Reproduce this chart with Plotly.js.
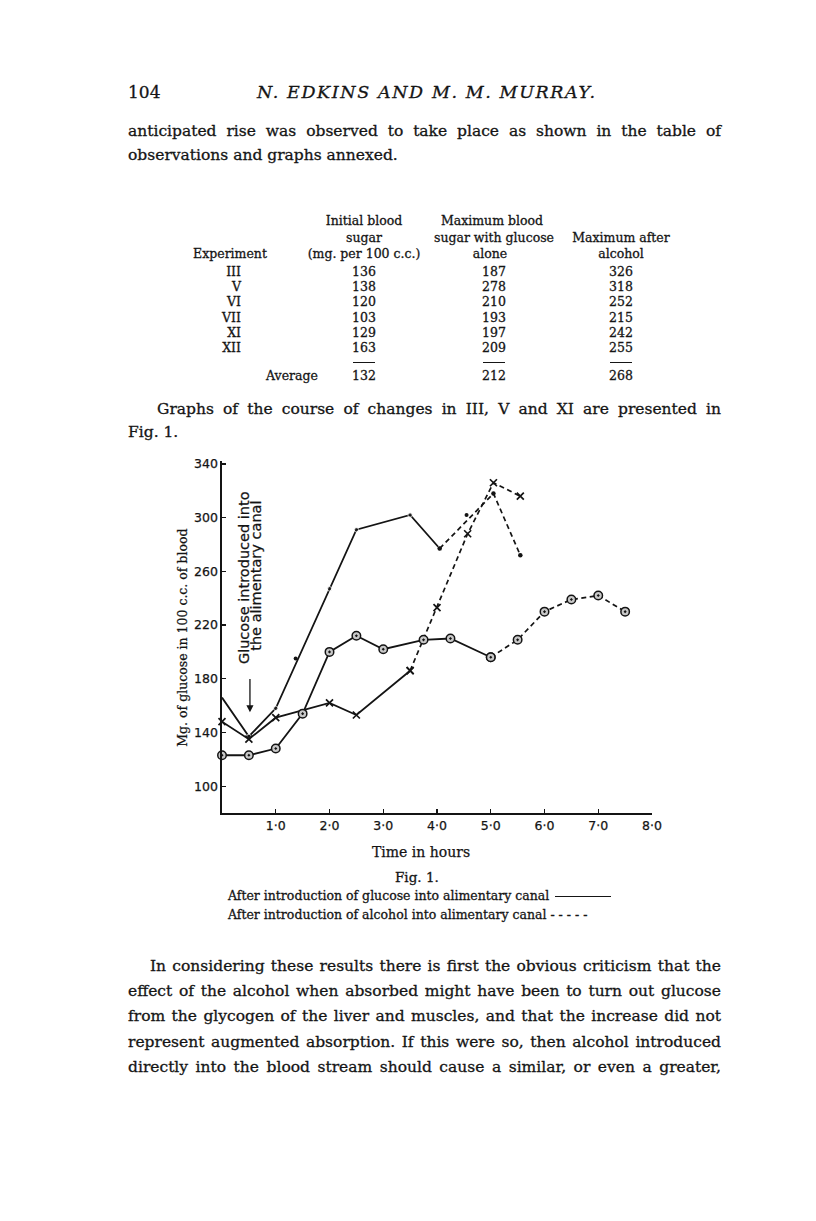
<!DOCTYPE html>
<html>
<head>
<meta charset="utf-8">
<script src="https://cdn.plot.ly/plotly-3.0.1.min.js"></script>
<style>
  html, body { margin: 0; padding: 0; background: #fff; }
  #page { position: relative; width: 816px; height: 1221px; overflow: hidden;
          font-family: "DejaVu Serif", serif; color: #151515; }
  .line { position: absolute; line-height: 20px; font-size: 15.5px; white-space: nowrap;
          -webkit-text-stroke: 0.3px #151515; }
  .just { text-align: justify; text-align-last: justify; white-space: normal; }
  .cell { position: absolute; width: 160px; font-size: 12.5px; line-height: 16px;
          text-align: center; white-space: nowrap; -webkit-text-stroke: 0.3px #151515; }
  .rule { position: absolute; height: 0; border-top: 1.2px solid #151515; }
  #chart { position: absolute; left: 120px; top: 440px; width: 560px; height: 440px; }
  #chart text { stroke: #151515; stroke-width: 0.25px; }
</style>
</head>
<body>
<div id="page">
  <div id="chart"></div>
</div>
<script>
// table of observations
const experiments = ["III", "V", "VI", "VII", "XI", "XII"];
const initialSugar = [136, 138, 120, 103, 129, 163];
const maxGlucose = [187, 278, 210, 193, 197, 209];
const maxAlcohol = [326, 318, 252, 215, 242, 255];
const averages = [132, 212, 268];

// Fig. 1 - hours after start, mg. glucose per 100 c.c.
// Exp. V (dots)
const vGlucT = [0, 0.5, 1.0, 2.0, 2.5, 3.5, 4.05];
const vGlucY = [166, 137, 158, 247, 291, 302, 277];
const vAlcT = [4.05, 5.05, 5.55];
const vAlcY = [277, 318, 272];
// Exp. III (crosses)
const iiiGlucT = [0, 0.5, 1.0, 2.0, 2.5, 3.5];
const iiiGlucY = [148, 135, 151, 162, 153, 186];
const iiiAlcT = [3.5, 4.0, 4.57, 5.05, 5.55];
const iiiAlcY = [186, 233, 288, 326, 316];
// Exp. XI (circles)
const xiGlucT = [0, 0.5, 1.0, 1.5, 2.0, 2.5, 3.0, 3.75, 4.25, 5.0];
const xiGlucY = [123, 123, 128, 154, 200, 212, 202, 209, 210, 196];
const xiAlcT = [5.0, 5.5, 6.0, 6.5, 7.0, 7.5];
const xiAlcY = [196, 209, 230, 239, 242, 230];
// loose dots off the lines
const strayT = [1.37, 4.55];
const strayY = [195, 302];

const xTicks = [1, 2, 3, 4, 5, 6, 7, 8];
const xTickText = ["1·0", "2·0", "3·0", "4·0", "5·0", "6·0", "7·0", "8·0"];
const yTicks = [100, 140, 180, 220, 260, 300, 340];

const page = document.getElementById("page");

function addLine(text, left, width, y, justify, extra) {
  const d = document.createElement("div");
  d.className = "line" + (justify ? " just" : "");
  d.style.left = left + "px";
  d.style.top = (y - 11) + "px";
  if (width) d.style.width = width + "px";
  d.textContent = text;
  if (extra) Object.assign(d.style, extra);
  page.appendChild(d);
  return d;
}

// running text
addLine("104", 128, 0, 93, false, { fontSize: "17px" });
addLine("N. EDKINS AND M. M. MURRAY.", 257, 0, 93, false, { fontSize: "17.5px", fontStyle: "italic", letterSpacing: "1.6px" });
addLine("anticipated rise was observed to take place as shown in the table of", 128, 593, 132, true);
addLine("observations and graphs annexed.", 128, 0, 156, false);
addLine("Graphs of the course of changes in III, V and XI are presented in", 157, 564, 410, true);
addLine("Fig. 1.", 128, 0, 433, false);
const para = [
  "In considering these results there is first the obvious criticism that the",
  "effect of the alcohol when absorbed might have been to turn out glucose",
  "from the glycogen of the liver and muscles, and that the increase did not",
  "represent augmented absorption. If this were so, then alcohol introduced",
  "directly into the blood stream should cause a similar, or even a greater,"
];
para.forEach((t, i) => {
  const left = i === 0 ? 150 : 128;
  addLine(t, left, 721 - left, 967 + i * 25.2, true);
});

// table
function cell(text, cx, y, align) {
  const d = document.createElement("div");
  d.className = "cell";
  d.textContent = text;
  d.style.top = (y - 8) + "px";
  if (align === "right") {
    d.style.left = (cx - 160) + "px";
    d.style.textAlign = "right";
  } else {
    d.style.left = (cx - 80) + "px";
  }
  page.appendChild(d);
}
const colX = [364, 494, 621];
cell("Initial blood", colX[0], 221);
cell("sugar", colX[0], 237.5);
cell("(mg. per 100 c.c.)", colX[0], 254);
cell("Maximum blood", colX[1] - 2, 221);
cell("sugar with glucose", colX[1], 237.5);
cell("alone", colX[1] - 4, 254);
cell("Maximum after", colX[2], 237.5);
cell("alcohol", colX[2], 254);
cell("Experiment", 230, 254);
experiments.forEach((e, i) => {
  const y = 272 + i * 15.2;
  cell(e, 241, y, "right");
  cell(String(initialSugar[i]), colX[0], y);
  cell(String(maxGlucose[i]), colX[1], y);
  cell(String(maxAlcohol[i]), colX[2], y);
});
colX.forEach((cx) => {
  const r = document.createElement("div");
  r.className = "rule";
  r.style.left = (cx - 11) + "px";
  r.style.width = "22px";
  r.style.top = "362px";
  page.appendChild(r);
});
cell("Average", 292, 376);
averages.forEach((a, i) => cell(String(a), colX[i], 376));

// caption under the figure
addLine("Fig. 1.", 395, 0, 878, false, { fontSize: "13.5px" });
const cap1 = addLine("After introduction of glucose into alimentary canal ", 228, 0, 897, false, { fontSize: "12.5px" });
const bar = document.createElement("span");
bar.style.cssText = "display:inline-block;width:56px;border-top:1.3px solid #151515;vertical-align:middle;margin-left:2px;";
cap1.appendChild(bar);
addLine("After introduction of alcohol into alimentary canal - - - - -", 228, 0, 916, false, { fontSize: "12.5px" });

// chart
const ink = "#141414";
const solid = { color: ink, width: 1.8 };
const dashed = { color: ink, width: 1.7, dash: "5px,3.5px" };
const dotMarker = { symbol: "circle", size: 4.5, color: ink };
const crossMarker = { symbol: "x-thin-open", size: 7, color: ink, line: { color: ink, width: 1.7 } };
const ringMarker = { symbol: "circle-dot", size: 8.5, color: "#c8c8c8", line: { color: ink, width: 1.5 } };

const traces = [
  { x: vGlucT, y: vGlucY, mode: "lines+markers", line: solid,
    marker: Object.assign({}, dotMarker, { size: vGlucT.map((t, i) => (i === 0 ? 0 : 4.5)) }) },
  { x: vAlcT, y: vAlcY, mode: "lines+markers", line: dashed, marker: dotMarker },
  { x: iiiGlucT, y: iiiGlucY, mode: "lines+markers", line: solid, marker: crossMarker },
  { x: iiiAlcT, y: iiiAlcY, mode: "lines+markers", line: dashed, marker: crossMarker },
  { x: xiGlucT, y: xiGlucY, mode: "lines+markers", line: solid, marker: ringMarker },
  { x: xiAlcT, y: xiAlcY, mode: "lines+markers", line: dashed, marker: ringMarker },
  { x: strayT, y: strayY, mode: "markers", marker: { symbol: "circle", size: 4, color: ink } }
].map((t) => Object.assign({ type: "scatter", cliponaxis: false, hoverinfo: "skip" }, t));

const axisCommon = {
  showline: true, linecolor: ink, linewidth: 1.6,
  showgrid: false, zeroline: false,
  ticks: "inside", ticklen: 4, tickwidth: 1.2, tickcolor: ink,
  tickfont: { family: "DejaVu Sans", size: 12.5, color: ink },
  fixedrange: true
};

const layout = {
  width: 560, height: 440,
  margin: { l: 102, r: 28, t: 21.3, b: 66.7 },
  paper_bgcolor: "rgba(0,0,0,0)", plot_bgcolor: "rgba(0,0,0,0)",
  showlegend: false,
  xaxis: Object.assign({}, axisCommon, { range: [0, 8], tickvals: xTicks, ticktext: xTickText }),
  yaxis: Object.assign({}, axisCommon, { range: [80, 342.2], tickvals: yTicks }),
  annotations: [
    { text: "Mg. of glucose in 100 c.c. of blood", xref: "paper", yref: "paper",
      x: -0.0907, y: 0.498, textangle: -90, showarrow: false,
      xanchor: "center", yanchor: "middle",
      font: { family: "DejaVu Serif", size: 12.5, color: ink } },
    { text: "Time in hours", xref: "paper", yref: "paper",
      x: 0.463, y: -0.11, showarrow: false, xanchor: "center", yanchor: "middle",
      font: { family: "DejaVu Serif", size: 14, color: ink } },
    { text: "Glucose introduced into", xref: "x", yref: "y", x: 0.41, y: 255,
      textangle: -90, showarrow: false,
      font: { family: "DejaVu Sans", size: 14.5, color: ink } },
    { text: "the alimentary canal", xref: "x", yref: "y", x: 0.64, y: 257,
      textangle: -90, showarrow: false,
      font: { family: "DejaVu Sans", size: 14.5, color: ink } },
    { text: "", xref: "x", yref: "y", x: 0.52, y: 155, axref: "x", ayref: "y",
      ax: 0.52, ay: 181, showarrow: true, arrowhead: 2, arrowsize: 1.1,
      arrowwidth: 1.3, arrowcolor: ink, standoff: 0, startstandoff: 0 }
  ]
};

Plotly.newPlot("chart", traces, layout, { staticPlot: true });
</script>
</body>
</html>
